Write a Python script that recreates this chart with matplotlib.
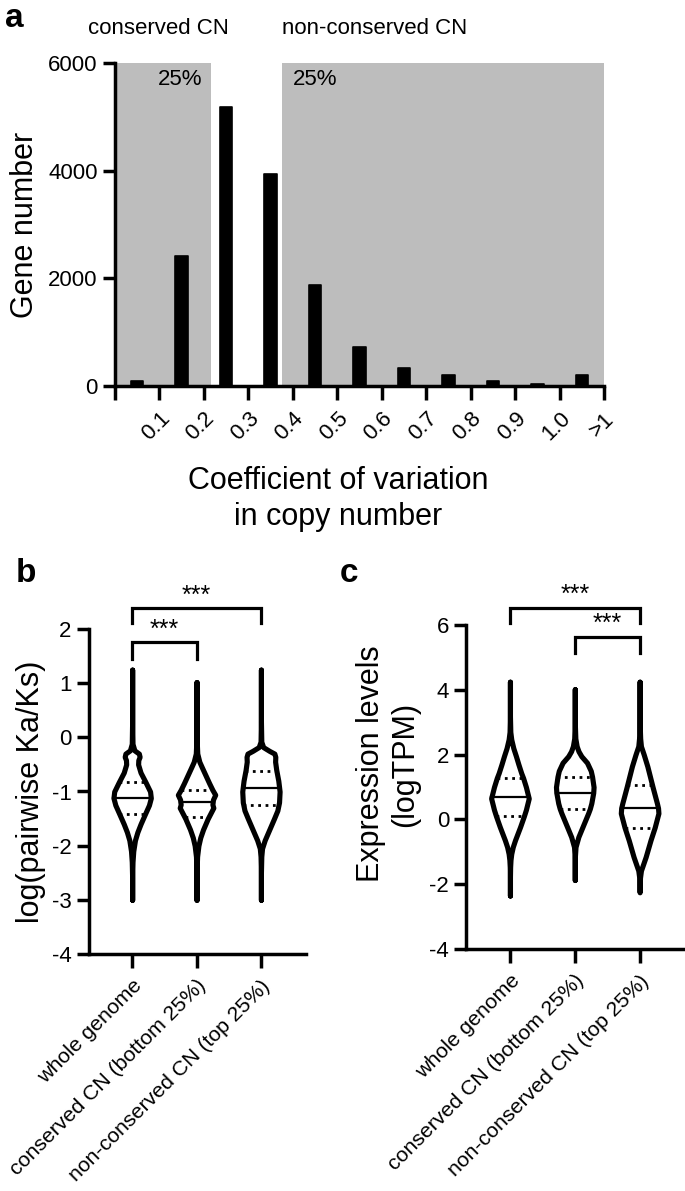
import numpy as np
import matplotlib
matplotlib.use("Agg")
import matplotlib.pyplot as plt

plt.rcParams['font.family'] = ['Liberation Sans', 'DejaVu Sans']
plt.rcParams['axes.unicode_minus'] = False

# ---------------- data: panel a ----------------
cv_labels = ['0.1', '0.2', '0.3', '0.4', '0.5', '0.6', '0.7', '0.8', '0.9', '1.0', '>1']
gene_counts = [90, 2420, 5180, 3930, 1880, 720, 340, 210, 90, 45, 210]
conserved_cut = 0.217      # upper edge of bottom 25% (CV)
nonconserved_cut = 0.375   # lower edge of top 25% (CV)

# ---------------- data: panels b, c ----------------
groups = ['whole genome', 'conserved CN (bottom 25%)', 'non-conserved CN (top 25%)']

# log(pairwise Ka/Ks) violin profiles (value levels, relative density)
kaks_lv_whole = [-3.0, -2.6, -2.3, -2.1, -1.9, -1.75, -1.6, -1.42, -1.25, -1.12, -1.0, -0.83, -0.65, -0.5, -0.42, -0.36, -0.3, -0.24, -0.12, 0.3, 1.25]
kaks_dn_whole = [0.0, 0.0, 0.02, 0.06, 0.15, 0.28, 0.45, 0.68, 0.9, 1.0, 0.96, 0.72, 0.45, 0.32, 0.33, 0.4, 0.36, 0.12, 0.02, 0.0, 0.0]
kaks_lv_cons = [-3.0, -2.5, -2.2, -2.0, -1.85, -1.7, -1.5, -1.38, -1.3, -1.24, -1.15, -1.06, -0.97, -0.85, -0.7, -0.55, -0.45, -0.3, 0.0, 1.02]
kaks_dn_cons = [0.0, 0.0, 0.03, 0.1, 0.2, 0.35, 0.6, 0.78, 0.9, 0.85, 0.88, 1.0, 0.85, 0.68, 0.48, 0.28, 0.15, 0.04, 0.0, 0.0]
kaks_lv_noncons = [-3.0, -2.5, -2.2, -2.05, -1.9, -1.7, -1.5, -1.35, -1.2, -1.0, -0.8, -0.6, -0.45, -0.36, -0.3, -0.25, -0.18, -0.08, 0.3, 1.25]
kaks_dn_noncons = [0.0, 0.0, 0.02, 0.06, 0.2, 0.45, 0.7, 0.88, 0.97, 1.0, 0.93, 0.82, 0.76, 0.77, 0.72, 0.45, 0.12, 0.02, 0.0, 0.0]
kaks_median = [-1.12, -1.2, -0.93]
kaks_q1 = [-1.42, -1.48, -1.25]
kaks_q3 = [-0.83, -0.97, -0.62]

# Expression levels (logTPM) violin profiles
tpm_lv_whole = [-2.35, -1.8, -1.47, -1.25, -1.06, -0.85, -0.64, -0.23, 0.1, 0.3, 0.65, 1.0, 1.28, 1.43, 1.7, 1.95, 2.2, 2.47, 2.7, 3.2, 4.25]
tpm_dn_whole = [0.0, 0.0, 0.01, 0.03, 0.07, 0.15, 0.27, 0.54, 0.74, 0.85, 1.0, 0.85, 0.7, 0.6, 0.45, 0.32, 0.18, 0.07, 0.02, 0.0, 0.0]
tpm_lv_cons = [-1.87, -1.2, -0.85, -0.54, -0.23, 0.19, 0.33, 0.5, 0.82, 1.0, 1.32, 1.5, 1.75, 1.95, 2.1, 2.26, 2.5, 3.0, 4.02]
tpm_dn_cons = [0.0, 0.0, 0.04, 0.19, 0.41, 0.71, 0.8, 0.88, 0.98, 1.0, 0.92, 0.85, 0.65, 0.35, 0.2, 0.1, 0.03, 0.0, 0.0]
tpm_lv_noncons = [-2.25, -1.8, -1.58, -1.16, -0.64, -0.25, 0.19, 0.35, 0.5, 1.0, 1.64, 2.0, 2.26, 2.5, 3.0, 4.25]
tpm_dn_noncons = [0.0, 0.02, 0.07, 0.32, 0.58, 0.8, 1.0, 0.98, 0.92, 0.69, 0.41, 0.22, 0.07, 0.03, 0.0, 0.0]
tpm_median = [0.68, 0.82, 0.35]
tpm_q1 = [0.1, 0.33, -0.25]
tpm_q3 = [1.28, 1.32, 1.05]

# ---------------- figure ----------------
W, H = 685, 1191
fig = plt.figure(figsize=(W / 100, H / 100), dpi=100)

def fx(px):
    return px / W

def fy(py):
    return 1 - py / H

TICK_FS = 16
CAT_FS = 15.3
LABEL_FS = 22
SPINE_LW = 2.5
STAR_FS = 18

def style_axes(ax):
    for s in ['top', 'right']:
        ax.spines[s].set_visible(False)
    for s in ['left', 'bottom']:
        ax.spines[s].set_linewidth(SPINE_LW)
        ax.spines[s].set_capstyle('projecting')
    ax.tick_params(width=SPINE_LW, length=9, labelsize=TICK_FS, colors='black')

# ---- panel a ----
axa = fig.add_axes([fx(115), fy(386), fx(604 - 115), (386 - 63) / H])
style_axes(axa)
n = len(gene_counts)
xmax = n * 0.1
axa.axvspan(0, conserved_cut, color='#bdbdbd', lw=0, zorder=0)
axa.axvspan(nonconserved_cut, xmax, color='#bdbdbd', lw=0, zorder=0)
centers = (np.arange(n) + 0.5) * 0.1
bars = axa.bar(centers, gene_counts, width=0.028, color='black', edgecolor='black',
               linewidth=1.2, zorder=2)
for b in bars:
    b.set_joinstyle('round')
axa.set_xlim(0, xmax)
axa.set_ylim(0, 6000)
axa.set_yticks([0, 2000, 4000, 6000])
axa.set_xticks(np.arange(n + 1) * 0.1)
axa.set_xticklabels([''] + cv_labels, rotation=45, ha='right', va='top',
                    rotation_mode='anchor')
axa.tick_params(axis='x', length=10, pad=6)
axa.set_ylabel('Gene number', fontsize=LABEL_FS, labelpad=6)
axa.text(0.196, 5700, '25%', fontsize=16, ha='right', va='center', zorder=3)
axa.text(0.40, 5700, '25%', fontsize=16, ha='left', va='center', zorder=3)
fig.text(fx(158), fy(29), 'conserved CN', fontsize=16, ha='center', va='center')
fig.text(fx(282), fy(29), 'non-conserved CN', fontsize=16, ha='left', va='center')
fig.text(fx(338), fy(466), 'Coefficient of variation\nin copy number', fontsize=LABEL_FS,
         ha='center', va='top', linespacing=1.25)
fig.text(fx(5), fy(3), 'a', fontsize=24, fontweight='bold', ha='left', va='top')

# ---- violin helper ----
VW = 0.58

def draw_violins(ax, levels, dens, med, q1, q3):
    stats = []
    for lv, dn, m in zip(levels, dens, med):
        lv = np.asarray(lv, float)
        dn = np.asarray(dn, float)
        stats.append(dict(coords=lv, vals=dn, mean=m, median=m, min=lv.min(), max=lv.max()))
    pos = np.arange(1, len(stats) + 1)
    parts = ax.violin(stats, positions=pos, widths=VW, showmeans=False,
                      showextrema=False, showmedians=False)
    for body in parts['bodies']:
        body.set_facecolor('white')
        body.set_edgecolor('black')
        body.set_linewidth(3.7)
        body.set_alpha(1)
        body.set_joinstyle('round')
        body.set_capstyle('round')
        body.set_zorder(2)
    for p, lv, dn, m, a, b in zip(pos, levels, dens, med, q1, q3):
        lv = np.asarray(lv, float)
        dn = np.asarray(dn, float) / max(dn)
        for val, ls, lw in [(m, '-', 1.6), (a, ':', 2.0), (b, ':', 2.0)]:
            hw = 0.5 * VW * np.interp(val, lv, dn)
            ax.plot([p - hw, p + hw], [val, val], color='black', ls=ls, lw=lw, zorder=3)
    ax.set_xticks(pos)
    ax.set_xticklabels(groups, rotation=45, ha='right', va='top', rotation_mode='anchor',
                       fontsize=CAT_FS)
    ax.set_xlim(0.33, 3.7)
    ax.tick_params(axis='x', length=10, pad=6)

def bracket(ax, i, j, y_top, y_bot, label, text_y):
    xi, xj = i + 1, j + 1
    ax.plot([xi, xi, xj, xj], [y_bot, y_top, y_top, y_bot], color='black', lw=2.3,
            clip_on=False, solid_joinstyle='miter', zorder=4)
    ax.text((xi + xj) / 2, text_y, label, ha='center', va='center', fontsize=STAR_FS,
            clip_on=False)

# ---- panel b ----
axb = fig.add_axes([fx(89), fy(954), fx(306 - 89), (954 - 629) / H])
style_axes(axb)
draw_violins(axb,
             [kaks_lv_whole, kaks_lv_cons, kaks_lv_noncons],
             [kaks_dn_whole, kaks_dn_cons, kaks_dn_noncons],
             kaks_median, kaks_q1, kaks_q3)
axb.set_ylim(-4, 2)
axb.set_yticks([-4, -3, -2, -1, 0, 1, 2])
axb.set_ylabel('log(pairwise Ka/Ks)', fontsize=LABEL_FS, labelpad=4)
bracket(axb, 0, 2, 2.39, 2.11, '***', 2.62)
bracket(axb, 0, 1, 1.76, 1.45, '***', 1.99)
fig.text(fx(16), fy(582), 'b', fontsize=24, fontweight='bold', ha='left', va='baseline')

# ---- panel c ----
axc = fig.add_axes([fx(466.5), fy(949), fx(685 - 466.5), (949 - 625) / H])
style_axes(axc)
draw_violins(axc,
             [tpm_lv_whole, tpm_lv_cons, tpm_lv_noncons],
             [tpm_dn_whole, tpm_dn_cons, tpm_dn_noncons],
             tpm_median, tpm_q1, tpm_q3)
axc.set_ylim(-4, 6)
axc.set_yticks([-4, -2, 0, 2, 4, 6])
bracket(axc, 0, 2, 6.52, 6.05, '***', 6.92)
bracket(axc, 1, 2, 5.62, 5.15, '***', 6.04)
fig.text(fx(388), fy(764), 'Expression levels\n(logTPM)', fontsize=LABEL_FS, rotation=90,
         ha='center', va='center', linespacing=1.15)
fig.text(fx(340), fy(582), 'c', fontsize=24, fontweight='bold', ha='left', va='baseline')

fig.savefig('out.png', dpi=100)
